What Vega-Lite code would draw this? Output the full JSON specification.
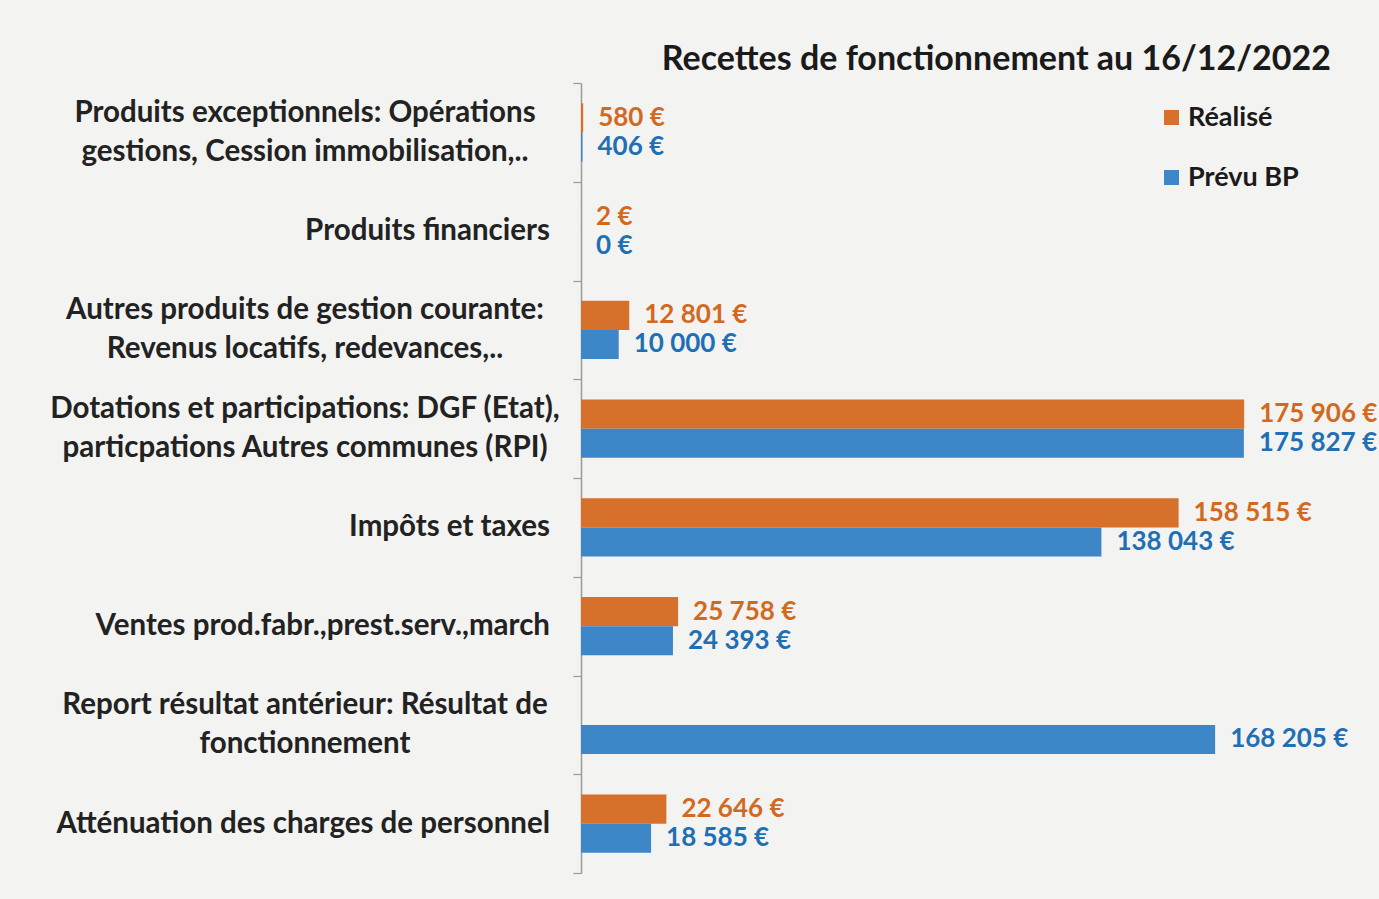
{
  "$schema": "https://vega.github.io/schema/vega-lite/v6.json",
  "width": 754,
  "height": 790,
  "autosize": "none",
  "padding": {"left": 581, "top": 83, "right": 44, "bottom": 26},
  "background": "#f3f3f1",
  "title": {"text": "Recettes de fonctionnement au 16/12/2022", "anchor": "end", "frame": "group", "fontSize": 34, "font": "Lato", "fontWeight": "bold", "color": "#1a1a1a", "offset": 5, "dx": -4},
  "config": {"view": {"stroke": null}},
  "data": {"values": [
    {"cat": "Produits exceptionnels: Opérations|gestions, Cession immobilisation,..", "series": "Réalisé", "value": 580, "label": "580 €"},
    {"cat": "Produits exceptionnels: Opérations|gestions, Cession immobilisation,..", "series": "Prévu BP", "value": 406, "label": "406 €"},
    {"cat": "Produits financiers", "series": "Réalisé", "value": 2, "label": "2 €"},
    {"cat": "Produits financiers", "series": "Prévu BP", "value": 0, "label": "0 €"},
    {"cat": "Autres produits de gestion courante:|Revenus locatifs, redevances,..", "series": "Réalisé", "value": 12801, "label": "12 801 €"},
    {"cat": "Autres produits de gestion courante:|Revenus locatifs, redevances,..", "series": "Prévu BP", "value": 10000, "label": "10 000 €"},
    {"cat": "Dotations et participations: DGF (Etat),|particpations Autres communes (RPI)", "series": "Réalisé", "value": 175906, "label": "175 906 €"},
    {"cat": "Dotations et participations: DGF (Etat),|particpations Autres communes (RPI)", "series": "Prévu BP", "value": 175827, "label": "175 827 €"},
    {"cat": "Impôts et taxes", "series": "Réalisé", "value": 158515, "label": "158 515 €"},
    {"cat": "Impôts et taxes", "series": "Prévu BP", "value": 138043, "label": "138 043 €"},
    {"cat": "Ventes prod.fabr.,prest.serv.,march", "series": "Réalisé", "value": 25758, "label": "25 758 €"},
    {"cat": "Ventes prod.fabr.,prest.serv.,march", "series": "Prévu BP", "value": 24393, "label": "24 393 €"},
    {"cat": "Report résultat antérieur: Résultat de|fonctionnement", "series": "Prévu BP", "value": 168205, "label": "168 205 €"},
    {"cat": "Atténuation des charges de personnel", "series": "Réalisé", "value": 22646, "label": "22 646 €"},
    {"cat": "Atténuation des charges de personnel", "series": "Prévu BP", "value": 18585, "label": "18 585 €"}
  ]},
  "encoding": {
    "y": {
      "field": "cat", "type": "nominal", "title": null,
      "scale": {"domain": [
        "Produits exceptionnels: Opérations|gestions, Cession immobilisation,..",
        "Produits financiers",
        "Autres produits de gestion courante:|Revenus locatifs, redevances,..",
        "Dotations et participations: DGF (Etat),|particpations Autres communes (RPI)",
        "Impôts et taxes",
        "Ventes prod.fabr.,prest.serv.,march",
        "Report résultat antérieur: Résultat de|fonctionnement",
        "Atténuation des charges de personnel"
      ], "paddingInner": 0, "paddingOuter": 0},
      "axis": {
        "labels": false,
        "tickBand": "extent",
        "domainColor": "#9a9a9a", "domainWidth": 1.5,
        "tickColor": "#9a9a9a", "tickWidth": 1.2, "tickSize": 8
      }
    },
    "x": {"field": "value", "type": "quantitative", "scale": {"domain": [0, 200000]}, "axis": null}
  },
  "layer": [
    {
      "mark": {"type": "bar"},
      "encoding": {
        "yOffset": {"field": "series", "type": "nominal", "scale": {"domain": ["Réalisé", "Prévu BP"], "paddingInner": 0, "paddingOuter": 0.7}},
        "color": {
          "field": "series", "type": "nominal",
          "scale": {"domain": ["Réalisé", "Prévu BP"], "range": ["#D6702A", "#3D87C8"]},
          "legend": {
            "title": null, "orient": "none", "legendX": 577, "legendY": 21,
            "symbolType": "square", "symbolSize": 225, "symbolStrokeWidth": 0,
            "labelFont": "Lato", "labelFontSize": 27, "labelFontWeight": "bold",
            "labelColor": "#1a1a1a", "rowPadding": 32, "labelOffset": 3
          }
        }
      }
    },
    {
      "mark": {"type": "text", "align": "left", "baseline": "middle", "dx": 15, "fontSize": 26, "font": "Lato", "fontWeight": "bold"},
      "encoding": {
        "yOffset": {"field": "series", "type": "nominal", "scale": {"domain": ["Réalisé", "Prévu BP"], "paddingInner": 0, "paddingOuter": 0.7}},
        "text": {"field": "label", "type": "nominal"},
        "color": {
          "field": "series", "type": "nominal",
          "scale": {"domain": ["Réalisé", "Prévu BP"], "range": ["#D2691F", "#1F6FB4"]},
          "legend": null
        }
      }
    },
    {
      "transform": [{"filter": "datum.series === 'Prévu BP'"}],
      "mark": {
        "type": "text", "baseline": "middle", "lineBreak": "|", "lineHeight": 39,
        "fontSize": 29.5, "font": "Lato", "fontWeight": "bold", "color": "#222222",
        "align": {"expr": "indexof(datum.cat, '|') >= 0 ? 'center' : 'right'"},
        "dx": {"expr": "indexof(datum.cat, '|') >= 0 ? -276 : -31"},
        "dy": {"expr": "indexof(datum.cat, '|') >= 0 ? -19.5 : 0"}
      },
      "encoding": {
        "x": {"datum": 0, "type": "quantitative"},
        "text": {"field": "cat", "type": "nominal"}
      }
    }
  ],
  "resolve": {"scale": {"color": "independent"}}
}
